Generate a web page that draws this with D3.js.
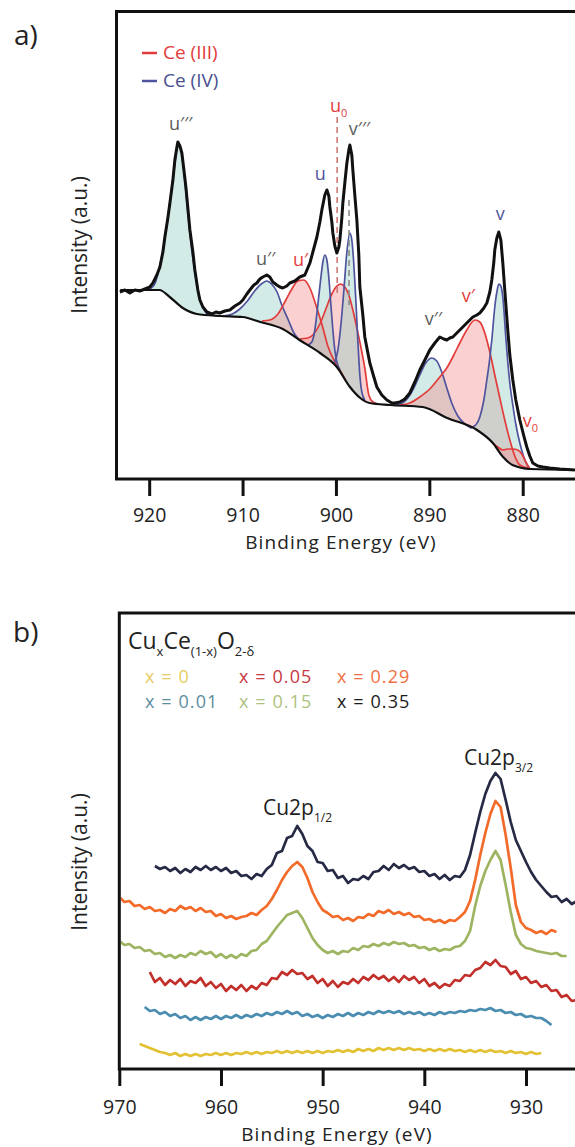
<!DOCTYPE html>
<html><head><meta charset="utf-8">
<script src="https://cdn.jsdelivr.net/npm/d3@7"></script>
<style>
body{margin:0;background:#fff}
svg{display:block}
text{font-family:"Open Sans","Noto Sans",sans-serif}
</style>
</head><body>
<svg id="c" width="575" height="1147"></svg>
<script>
// ---------------- Panel a : Ce 3d ----------------
const ticksA = [920, 910, 900, 890, 880];
const energyA = [923.14,922.60,922.07,921.53,921.00,920.46,919.93,919.60,919.18,918.85,
918.53,918.32,918.00,917.78,917.46,917.25,917.03,916.93,916.71,916.50,
916.28,916.07,915.86,915.64,915.32,915.11,914.79,914.57,914.25,913.82,
913.29,912.86,912.43,911.90,911.36,910.82,910.29,909.97,909.54,909.22,
908.79,908.47,908.15,907.83,907.40,907.08,906.76,906.33,906.01,905.69,
905.26,904.94,904.40,903.87,903.33,902.79,902.47,902.04,901.72,901.51,
901.19,900.97,900.76,900.65,900.44,900.33,900.12,899.90,899.69,899.58,
899.37,899.26,899.05,898.83,898.62,898.51,898.30,898.19,897.98,897.76,
897.55,897.44,897.12,896.91,896.58,896.37,895.94,895.62,895.09,894.55,
894.01,893.69,893.16,892.62,892.09,891.55,891.02,890.48,889.95,889.41,
888.88,888.45,888.13,887.81,887.48,886.95,886.41,885.88,885.34,884.91,
884.59,884.16,883.84,883.52,883.31,883.09,882.99,882.77,882.56,882.34,
882.13,881.92,881.60,881.38,881.06,880.74,880.31,879.88,879.56,879.24,
878.92,878.38,877.85,877.10,876.03,874.42];
const intensityA = [186,188,185,188,187,189,191,195,203,211,
226,241,260,275,298,318,331,336,332,325,
308,291,270,248,226,208,188,178,171,166,
164,166,165,167,168,172,175,178,184,188,
193,195,199,201,203,201,196,193,191,190,
192,195,197,201,203,215,226,241,256,268,
283,288,282,271,256,245,232,225,231,238,
260,275,295,315,328,333,323,308,283,258,
223,191,163,141,125,115,101,91,83,78,
75,75,76,79,85,96,108,118,128,135,
141,139,138,140,141,146,151,156,161,163,
165,170,175,186,198,216,228,240,246,238,
215,188,148,123,98,78,58,42,31,22,
15,12,11,10,9,8];

const bgEnergyA = [923.1,918.9,917.8,916.4,914.9,912.4,910.0,908.1,905.7,903.9,901.7,899.9,898.5,897.4,896.4,894.2,890.7,888.1,884.9,883.2,882.1,881.1,879.2,874.4];
const bgIntensityA = [188,188,181,170,164,162,161,156,149,138,125,111,91,80,75,73,71,60,48,35,21,13,9,8];

// fitted components [eV, intensity]
const peakU3 = [[919.9,189],[919.4,194],[918.9,211],[918.3,241],[917.8,275],[917.2,318],[916.9,335],[916.6,328],[916.3,308],[915.9,270],[915.5,233],[915.0,200],[914.6,180],[914.1,168],[913.7,163]];
const peakU2 = [[912.2,162],[911.1,164],[910.3,169],[909.4,178],[908.7,187],[908.0,194],[907.4,197],[906.9,194],[906.3,186],[905.8,173],[905.1,158],[904.5,145],[903.9,138]];
const peakU1 = [[907.93,157],[907.08,158],[906.22,164],[905.36,178],[904.72,189],[904.08,197],[903.44,198],[902.79,190],[902.15,173],[901.51,154],[900.87,132],[900.22,118],[899.58,108],[898.94,97]];
const peakU0 = [[903.87,139],[903.01,140],[902.37,144],[901.72,154],[901.08,169],[900.44,184],[899.90,192],[899.47,194],[899.05,191],[898.62,183],[898.19,168],[897.76,150],[897.33,131],[896.91,110],[896.48,83],[896.05,76],[895.52,74]];
const peakU = [[903.01,133],[902.58,136],[902.26,148],[901.94,173],[901.62,200],[901.40,216],[901.19,223],[900.97,218],[900.76,200],[900.54,173],[900.33,148],[900.12,128],[899.90,116],[899.58,108]];
const peakV3 = [[900.22,114],[899.79,128],[899.47,153],[899.15,188],[898.83,226],[898.51,245],[898.30,238],[898.08,213],[897.87,178],[897.66,138],[897.44,103],[897.23,86],[896.91,78]];
const peakV2 = [[894.01,73],[893.16,74],[892.30,80],[891.66,90],[891.02,103],[890.38,115],[889.74,120],[889.20,117],[888.67,106],[888.13,90],[887.60,75],[886.95,62],[886.20,54],[885.45,50]];
const peakV1 = [[893.16,73],[892.09,75],[891.02,81],[889.95,89],[888.88,101],[888.13,110],[887.38,123],[886.74,135],[885.99,148],[885.13,158],[884.59,156],[884.06,145],[883.52,126],[882.99,103],[882.45,80],[881.92,58],[881.38,38],[880.85,22],[880.31,13],[879.45,10]];
const peakV = [[885.67,50],[885.03,53],[884.59,61],[884.16,78],[883.84,98],[883.52,120],[883.31,138],[882.99,171],[882.77,186],[882.56,194],[882.34,192],[882.13,181],[881.81,141],[881.60,116],[881.38,95],[881.06,73],[880.74,54],[880.31,35],[879.77,18],[879.24,9]];
const peakV0 = [[883.20,35],[882.67,31],[882.13,28],[881.60,29],[881.06,29],[880.53,28],[880.10,24],[879.67,16],[879.24,9]];

const componentsA = [
  {pts: peakU3, ox: "IV"}, {pts: peakU2, ox: "IV"}, {pts: peakU1, ox: "III"},
  {pts: peakU0, ox: "III"}, {pts: peakU, ox: "IV"}, {pts: peakV3, ox: "IV"},
  {pts: peakV2, ox: "IV"}, {pts: peakV1, ox: "III"}, {pts: peakV, ox: "IV"},
  {pts: peakV0, ox: "III"}
];
// peak labels: [text, subscript, eV, intensity, state]
const peakLabels = [
  ["u\u2032\u2032\u2032", "", 917.88, 348, "n"],
  ["u\u2032\u2032", "", 908.56, 213, "n"],
  ["u\u2032", "", 904.61, 212, "III"],
  ["u", "", 902.26, 298, "IV"],
  ["u", "0", 900.65, 366, "III"],
  ["v\u2032\u2032\u2032", "", 898.62, 343, "n"],
  ["v\u2032\u2032", "", 890.48, 153, "n"],
  ["v\u2032", "", 886.52, 176, "III"],
  ["v", "", 882.88, 258, "IV"],
  ["v", "0", 879.99, 51, "III"]
];
// dashed markers: [eV, top, bottom, colour-key]
const markersA = [[899.87, 361, 183, "III"], [898.6, 278, 173, "n"]];
const legendA = [["Ce (III)", "III"], ["Ce (IV)", "IV"]];

// ---------------- Panel b : Cu 2p ----------------
const ticksB = [970, 960, 950, 940, 930];
const energyB = [970,969.5,969,968.5,968,967.5,967,966.5,966,965.5,965,964.5,964,963.5,963,962.5,962,961.5,961,960.5,
960,959.5,959,958.5,958,957.5,957,956.5,956,955.5,955,954.5,954,953.5,953,952.5,952,951.5,951,950.5,
950,949.5,949,948.5,948,947.5,947,946.5,946,945.5,945,944.5,944,943.5,943,942.5,942,941.5,941,940.5,
940,939.5,939,938.5,938,937.5,937,936.5,936,935.5,935,934.5,934,933.5,933,932.5,932,931.5,931,930.5,
930,929.5,929,928.5,928,927.5,927,926.5,926,925.5,925];
const n = null;
const x035 = [n,n,n,n,n,n,n,
203,200,202,198,201,196,200,197,202,199,
203,199,202,198,201,196,198,193,194,190,
195,193,200,204,216,218,231,233,243,235,
223,218,207,206,198,199,191,193,186,190,
189,193,190,197,198,203,199,205,201,204,
200,202,197,198,193,195,190,194,189,193,
192,199,214,236,257,275,288,296,290,269,
247,229,218,207,197,189,183,177,172,173,
167,170,165,168];
const x029 = [172,167,168,163,164,160,162,158,159,156,
160,158,163,160,162,158,161,157,158,153,
155,151,153,150,152,153,156,154,159,163,
170,179,189,197,203,207,202,191,177,167,
159,156,152,153,149,151,148,152,151,155,
153,158,156,159,155,157,154,156,152,153,
149,150,147,149,146,149,148,152,157,168,
189,214,236,255,268,262,234,201,164,147,
141,139,136,138,135,139,137,n,n,n,n];
const x015 = [128,124,125,121,122,118,119,115,116,112,
114,111,114,112,116,114,118,115,117,112,
115,111,114,111,115,113,118,119,125,128,
135,142,148,154,156,158,151,141,131,124,
119,116,118,115,118,117,121,119,123,122,
125,123,126,124,127,125,126,123,124,121,
122,119,121,118,120,119,122,123,128,138,
163,183,198,209,218,209,184,157,134,125,
121,120,118,117,116,115,116,113,113,n,n];
const x005 = [n,n,n,n,n,n,
97,87,91,84,89,85,90,83,88,86,
91,83,87,81,85,78,83,79,84,78,
83,80,86,84,91,90,97,94,99,95,
96,90,93,86,90,83,88,82,87,85,
90,86,92,89,94,90,93,88,92,87,
93,89,92,86,90,83,86,81,85,83,
89,88,94,93,99,101,107,104,109,103,
102,95,98,90,92,86,88,82,84,78,
79,72,74,68,69];
const x001 = [n,n,n,n,n,
62,58,59,55,57,53,55,51,53,49,
52,49,52,50,53,50,53,51,54,51,
54,52,55,53,56,54,57,55,58,55,
57,53,55,52,54,51,54,52,55,53,
56,53,56,54,57,55,58,56,58,56,
58,55,57,55,57,54,56,54,57,55,
57,56,58,57,59,58,60,59,61,58,
59,56,57,54,55,52,53,51,51,48,
44,n,n,n,n,n];
const x000 = [n,n,n,n,
25,23,21,19,17,16,14,16,13,15,
13,15,13,15,14,16,14,16,14,16,
15,17,15,17,15,17,16,18,16,18,
16,18,16,18,16,18,16,18,17,19,
17,19,17,20,18,20,18,21,19,21,
19,21,19,21,19,20,18,20,18,20,
18,20,18,19,17,19,17,19,17,19,
17,18,16,18,16,17,15,17,15,16,
n,n,n,n,n,n,n];
const seriesB = [
  {name: "x = 0",    values: x000, color: "#e2c232", text: "#e6cc62"},
  {name: "x = 0.01", values: x001, color: "#4a8db0", text: "#5e8ea2"},
  {name: "x = 0.05", values: x005, color: "#c2302c", text: "#c83a44"},
  {name: "x = 0.15", values: x015, color: "#9db461", text: "#aec27f"},
  {name: "x = 0.29", values: x029, color: "#f26b2a", text: "#f07042"},
  {name: "x = 0.35", values: x035, color: "#262a44", text: "#1c1c1c"}
];
const legendOrderB = ["x = 0", "x = 0.05", "x = 0.29", "x = 0.01", "x = 0.15", "x = 0.35"];
// peak annotations: [main, subscript, eV, intensity]
const labelsB = [["Cu2p", "1/2", 955.87, 254], ["Cu2p", "3/2", 936.1, 304]];

// ---------------- drawing ----------------
const svg = d3.select("#c");
const colIV = "#4f549e", colIII = "#e23b3b", colN = "#5c5c5c";
const fillIV = "rgb(147,207,197)", fillIII = "rgb(242,142,142)";
const colorOf = k => k === "IV" ? colIV : (k === "III" ? colIII : colN);

function richText(sel, x, y, parts, size, subSize, color, subDy) {
  const t = sel.append("text").attr("x", x).attr("y", y).attr("font-size", size).attr("fill", color);
  let shifted = 0;
  parts.forEach(([s, sub]) => {
    if (!s) return;
    const target = sub ? subDy : 0;
    t.append("tspan").attr("dy", target - shifted).attr("font-size", sub ? subSize : size).text(s);
    shifted = target;
  });
  return t;
}

// ===== Panel a =====
const xA = d3.scaleLinear().domain([923.5, 874.4]).range([116.5, 575]);
const yA = d3.scaleLinear().domain([0, 468]).range([478, 10]);
const gA = svg.append("g");

const defs = svg.append("defs");
const bgPts = bgEnergyA.map((e, i) => [e, bgIntensityA[i]]);
defs.append("clipPath").attr("id", "aboveBg").append("path")
  .attr("d", d3.area().x(d => xA(d[0])).y0(yA(468)).y1(d => yA(d[1])).curve(d3.curveMonotoneX)(bgPts));
defs.append("clipPath").attr("id", "plotA").append("rect")
  .attr("x", 118).attr("y", 12).attr("width", 470).attr("height", 466);
defs.append("clipPath").attr("id", "plotB").append("rect")
  .attr("x", 121).attr("y", 614).attr("width", 470).attr("height", 454);

const compArea = d3.area().x(d => xA(d[0])).y0(yA(0)).y1(d => yA(d[1])).curve(d3.curveMonotoneX);
const compLine = d3.line().x(d => xA(d[0])).y(d => yA(d[1])).curve(d3.curveMonotoneX);

const fills = gA.append("g").attr("clip-path", "url(#aboveBg)");
componentsA.forEach(c => {
  fills.append("path").attr("d", compArea(c.pts))
    .attr("fill", c.ox === "IV" ? fillIV : fillIII).attr("fill-opacity", 0.42);
});
componentsA.forEach(c => {
  gA.append("path").attr("d", compLine(c.pts)).attr("fill", "none")
    .attr("stroke", c.ox === "IV" ? colIV : colIII).attr("stroke-width", 1.7);
});

// dashed markers
markersA.forEach(([e, t, b, k]) => {
  gA.append("line").attr("x1", xA(e)).attr("x2", xA(e)).attr("y1", yA(t)).attr("y2", yA(b))
    .attr("stroke", k === "III" ? "#cf7878" : "#8c8c8c").attr("stroke-width", 1.6)
    .attr("stroke-dasharray", "6,4");
});

// background
gA.append("path").attr("d", compLine(bgPts)).attr("fill", "none")
  .attr("stroke", "#111").attr("stroke-width", 2.2).attr("clip-path", "url(#plotA)");
// measured
const dataA = energyA.map((e, i) => [e, intensityA[i]]);
gA.append("path").attr("d", d3.line().x(d => xA(d[0])).y(d => yA(d[1]))(dataA))
  .attr("fill", "none").attr("stroke", "#111").attr("stroke-width", 3).attr("stroke-linejoin", "round")
  .attr("clip-path", "url(#plotA)");

// labels
peakLabels.forEach(([t, sub, e, v, k]) => {
  richText(gA, xA(e), yA(v), [[t, false], [sub, true]], 18, 11, colorOf(k), 5);
});

// legend a
legendA.forEach(([t, k], i) => {
  const y = 53 + i * 28;
  gA.append("line").attr("x1", 142).attr("x2", 157).attr("y1", y).attr("y2", y)
    .attr("stroke", colorOf(k)).attr("stroke-width", 2.5);
  gA.append("text").attr("x", 163).attr("y", y + 5.5).attr("font-size", 19)
    .attr("fill", k === "IV" ? "#4a4f8f" : colIII).text(t);
});

// frame + axis a
gA.append("rect").attr("x", 116.5).attr("y", 11.5).attr("width", 520).attr("height", 467.5)
  .attr("fill", "none").attr("stroke", "#111").attr("stroke-width", 3);
const axA = gA.append("g").attr("transform", "translate(0,479)")
  .call(d3.axisBottom(xA).tickValues(ticksA).tickSize(17).tickPadding(12).tickFormat(d3.format("d")));
axA.select(".domain").remove();
axA.selectAll(".tick line").attr("stroke", "#111").attr("stroke-width", 3);
axA.selectAll(".tick text").attr("font-size", 19.5).attr("fill", "#222").attr("font-family", "Open Sans");
gA.append("text").attr("x", 341).attr("y", 548.5).attr("text-anchor", "middle").attr("font-size", 19)
  .attr("letter-spacing", 1.1).attr("fill", "#222").text("Binding Energy (eV)");
gA.append("text").attr("transform", "translate(87,245) rotate(-90)").attr("text-anchor", "middle")
  .attr("font-size", 21).attr("fill", "#222").text("Intensity (a.u.)");
gA.append("text").attr("x", 14).attr("y", 45).attr("font-size", 28).attr("fill", "#222").text("a)");

// ===== Panel b =====
const xB = d3.scaleLinear().domain([970, 925.18]).range([119.3, 575]);
const yB = d3.scaleLinear().domain([0, 456]).range([1069, 613]);
const gB = svg.append("g");
const lineB = d3.line().defined(d => d[1] !== null).x(d => xB(d[0])).y(d => yB(d[1]));
seriesB.forEach(s => {
  gB.append("path").attr("d", lineB(energyB.map((e, i) => [e, s.values[i]])))
    .attr("fill", "none").attr("stroke", s.color).attr("stroke-width", 2.7)
    .attr("stroke-linejoin", "round").attr("clip-path", "url(#plotB)");
});
gB.append("rect").attr("x", 119.3).attr("y", 613).attr("width", 520).attr("height", 456)
  .attr("fill", "none").attr("stroke", "#111").attr("stroke-width", 3);
const axB = gB.append("g").attr("transform", "translate(0,1069)")
  .call(d3.axisBottom(xB).tickValues(ticksB).tickSize(17).tickPadding(14).tickFormat(d3.format("d")));
axB.select(".domain").remove();
axB.selectAll(".tick line").attr("stroke", "#111").attr("stroke-width", 3);
axB.selectAll(".tick text").attr("font-size", 19.5).attr("fill", "#222").attr("font-family", "Open Sans");
gB.append("text").attr("x", 337).attr("y", 1141).attr("text-anchor", "middle").attr("font-size", 19)
  .attr("letter-spacing", 1.1).attr("fill", "#222").text("Binding Energy (eV)");
gB.append("text").attr("transform", "translate(87,862) rotate(-90)").attr("text-anchor", "middle")
  .attr("font-size", 21).attr("fill", "#222").text("Intensity (a.u.)");
gB.append("text").attr("x", 13).attr("y", 642).attr("font-size", 28).attr("fill", "#222").text("b)");

// legend b
richText(gB, 128, 649, [["Cu", false], ["x", true], ["Ce", false], ["(1-x)", true], ["O", false], ["2-\u03b4", true]],
  23, 13, "#222", 7);
legendOrderB.forEach((name, i) => {
  const s = seriesB.find(d => d.name === name);
  const col = i % 3, row = Math.floor(i / 3);
  gB.append("text").attr("x", [145, 239, 337][col]).attr("y", 683 + row * 25)
    .attr("font-size", 18).attr("letter-spacing", 1.1).attr("fill", s.text).text(s.name);
});
labelsB.forEach(([m, sub, e, v]) => {
  richText(gB, xB(e), yB(v), [[m, false], [sub, true]], 21, 12, "#222", 7);
});
</script>
</body></html>
